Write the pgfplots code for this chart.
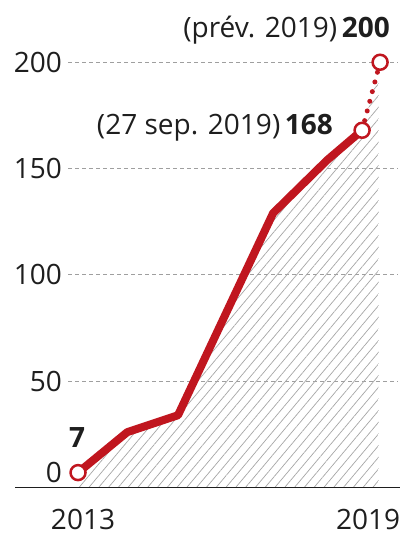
\documentclass[border=0pt]{standalone}
\usepackage{fontspec}
\setmainfont{Open Sans}
\usepackage{pgfplots}
\pgfplotsset{compat=1.18}
\usetikzlibrary{patterns.meta}
\definecolor{myred}{HTML}{C0161F}
\definecolor{txt}{HTML}{1E1E1E}
\newcommand\f{\fontsize{28bp}{31bp}\selectfont}
\begin{document}
\begin{tikzpicture}[x=1bp,y=1bp]
\useasboundingbox (0,0) rectangle (410,535);
\begin{axis}[
  at={(68bp,47.5bp)}, anchor=south west,
  scale only axis, width=330bp, height=446.5bp,
  xmin=2012.684, xmax=2019.63, ymin=0, ymax=210,
  clip=false,
  axis line style={draw=none},
  major tick length=0pt,
  /pgf/number format/assume math mode=true,
  xtick={2013,2019}, xticklabels={2013,2019},
  xticklabel style={font=\f, text=txt, inner sep=0pt, anchor=north, yshift=-21bp},
  ytick={50,100,150,200}, yticklabels={50,100,150,200},
  yticklabel style={font=\f, text=txt, inner sep=0pt, anchor=east, xshift=-6bp},
  extra y ticks={7}, extra y tick labels={0},
  extra y tick style={grid=none},
  ymajorgrids,
  grid style={dash pattern=on 4bp off 3bp, gray!75, line width=0.8bp},
]
\addplot[draw=none, pattern={Lines[angle=50,distance=7.5bp,line width=0.7bp]}, pattern color=gray!70]
  coordinates {(2012.895,7) (2013.93,26) (2015.0,34) (2017.0,129) (2018.14,154) (2018.874,168) (2019.22,195) (2019.22,0)} \closedcycle;
\draw[txt, line width=1bp] (axis cs:2011.57,0) -- (axis cs:2019.67,0);
\addplot[myred, line width=8bp, line join=round]
  coordinates {(2012.895,7) (2013.93,26) (2015.0,34) (2017.0,129) (2018.14,154) (2018.874,168)};
\addplot[myred, line width=5bp, line cap=round, dash pattern=on 0bp off 10bp]
  coordinates {(2018.874,168) (2019.253,200)};
\addplot[only marks, mark=*, mark size=7.5bp, mark options={fill=white, draw=myred, line width=2.5bp}]
  coordinates {(2012.895,7) (2018.874,168) (2019.253,200)};
\node[anchor=east, inner sep=0pt, font=\f, text=txt] at (axis cs:2019.463,215.2) {(prév. 2019)\,\textbf{200}};
\node[anchor=east, inner sep=0pt, font=\f, text=txt] at (axis cs:2018.263,169.1) {(27 sep. 2019)\,\textbf{168}};
\node[inner sep=0pt, font=\f\bfseries, text=txt] at (axis cs:2012.874,23.3) {7};
\end{axis}
\end{tikzpicture}
\end{document}
